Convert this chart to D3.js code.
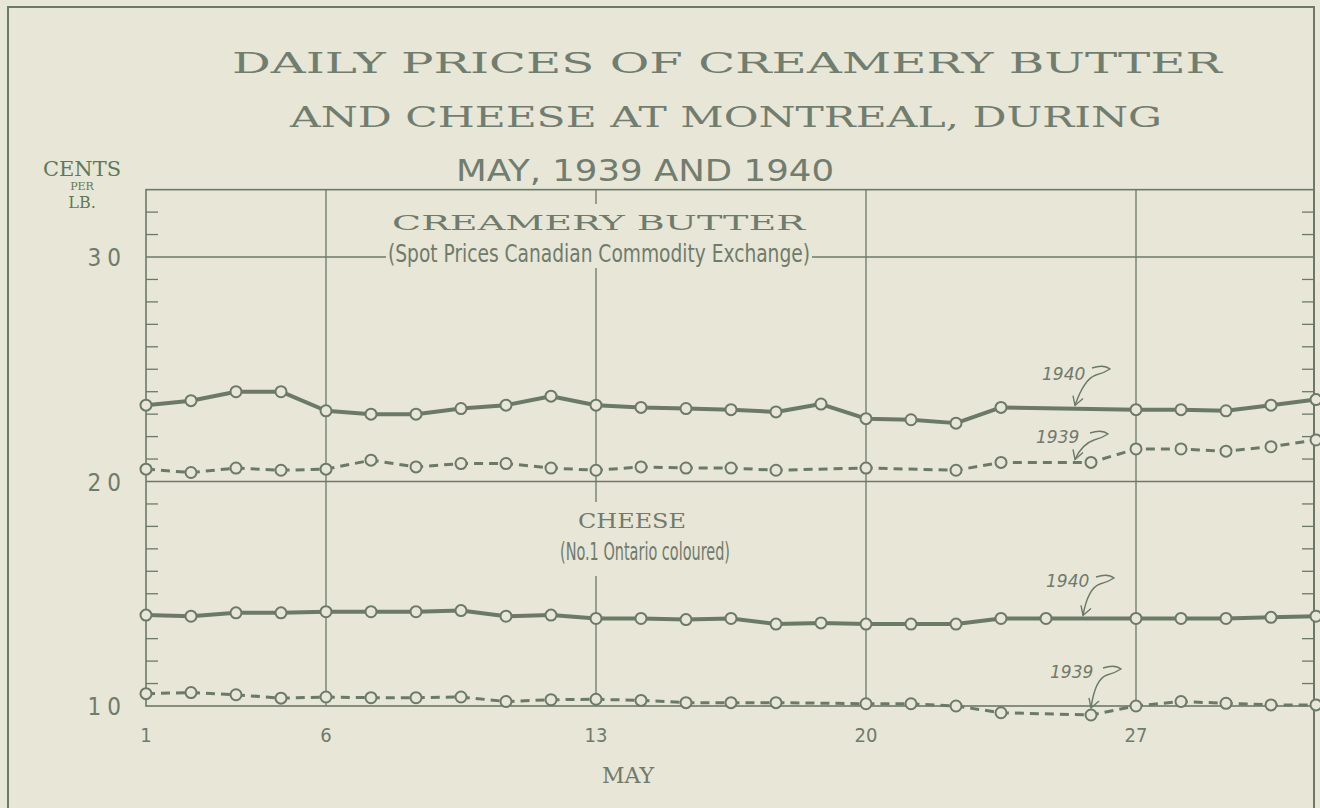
<html>
<head>
<meta charset="utf-8">
<style>
  body { margin: 0; background: #e8e6d7; }
  svg { display: block; }
  .serif { font-family: "DejaVu Serif", "Liberation Serif", serif; }
  .sans { font-family: "DejaVu Sans Condensed", "DejaVu Sans", sans-serif; font-weight: 300; }
  .hand { font-family: "DejaVu Sans", sans-serif; font-style: italic; }
</style>
<script src="https://cdn.jsdelivr.net/npm/d3@7"></script>
</head>
<body>
<svg id="chart" width="1320" height="808"></svg>
<script>
// trading days of May plotted on the axis (Sundays left out)
var days = [1,2,3,4,6,7,8,9,10,11,13,14,15,16,17,18,20,21,22,23,24,25,27,28,29,30,31];
var dayTicks = [1,6,13,20,27];
var yTicks = [10,20,30];

// cents per lb, null = no quotation
var butter1940 = [23.4,23.6,24.0,24.0,23.15,23.0,23.0,23.25,23.4,23.8,23.4,23.3,23.25,23.2,23.1,23.45,22.8,22.75,22.6,23.3,null,null,23.2,23.2,23.15,23.4,23.65];
var butter1939 = [20.55,20.4,20.6,20.5,20.55,20.95,20.65,20.8,20.8,20.6,20.5,20.65,20.6,20.6,20.5,null,20.6,null,20.5,20.85,null,20.85,21.45,21.45,21.35,21.55,21.85];
var cheese1940 = [14.05,14.0,14.15,14.15,14.2,14.2,14.2,14.25,14.0,14.05,13.9,13.9,13.85,13.9,13.65,13.7,13.65,13.65,13.65,13.9,13.9,null,13.9,13.9,13.9,13.95,14.0];
var cheese1939 = [10.55,10.6,10.5,10.35,10.4,10.37,10.37,10.4,10.2,10.28,10.3,10.25,10.15,10.15,10.15,null,10.1,10.1,10.0,9.7,null,9.6,10.0,10.2,10.12,10.05,10.05];

var ink = '#6b7a67';
var bg = '#e8e6d7';

var svg = d3.select('#chart');
svg.append('rect').attr('width', 1320).attr('height', 808).attr('fill', bg);

var x = d3.scalePoint().domain(days).range([146, 1316]);
var y = d3.scaleLinear().domain([10, 30]).range([706, 257]);
var plotLeft = 146, plotRight = 1314, plotTop = y(33), plotBottom = y(10);

// outer frame
svg.append('path')
   .attr('d', 'M8,812 L8,7 L' + plotRight + ',7 L' + plotRight + ',812')
   .attr('fill', 'none').attr('stroke', ink).attr('stroke-width', 2);

// title
var title = [
  {t: 'DAILY PRICES OF CREAMERY BUTTER', y: 73, x1: 232, x2: 1222, cls: 'serif', size: 27},
  {t: 'AND CHEESE AT MONTREAL, DURING', y: 127, x1: 290, x2: 1162, cls: 'serif', size: 27},
  {t: 'MAY, 1939 AND 1940', y: 181, x1: 456, x2: 834, cls: 'sans', size: 30}
];
svg.selectAll('.title').data(title).enter().append('text')
   .attr('class', function(d) { return 'title ' + d.cls; })
   .attr('x', function(d) { return d.x1; })
   .attr('y', function(d) { return d.y; })
   .attr('textLength', function(d) { return d.x2 - d.x1; })
   .attr('lengthAdjust', 'spacingAndGlyphs')
   .style('font-size', function(d) { return d.size + 'px'; })
   .attr('fill', '#717d6f')
   .text(function(d) { return d.t; });

// unit label
svg.append('text').attr('class', 'serif').attr('x', 82).attr('y', 176).attr('text-anchor', 'middle')
   .style('font-size', '21px').attr('fill', '#5d7a58').text('CENTS');
svg.append('text').attr('class', 'serif').attr('x', 82).attr('y', 190).attr('text-anchor', 'middle')
   .style('font-size', '11px').attr('fill', '#5d7a58').text('PER');
svg.append('text').attr('class', 'serif').attr('x', 82).attr('y', 208).attr('text-anchor', 'middle')
   .style('font-size', '16px').attr('fill', '#5d7a58').text('LB.');

// grid
var g = svg.append('g').attr('stroke', ink).attr('fill', 'none');
g.append('rect').attr('x', plotLeft).attr('y', plotTop).attr('width', plotRight - plotLeft).attr('height', plotBottom - plotTop)
 .attr('stroke-width', 1.6);
g.selectAll('.vgrid').data(dayTicks.slice(1)).enter().append('line')
 .attr('x1', function(d) { return x(d); }).attr('x2', function(d) { return x(d); })
 .attr('y1', plotTop).attr('y2', plotBottom).attr('stroke-width', 1.3);
g.selectAll('.hgrid').data([20, 30]).enter().append('line')
 .attr('x1', plotLeft).attr('x2', plotRight)
 .attr('y1', function(d) { return y(d); }).attr('y2', function(d) { return y(d); })
 .attr('stroke-width', 1.3);
var minor = d3.range(11, 34).filter(function(d) { return d % 10 != 0 && y(d) > plotTop + 2; });
g.selectAll('.tl').data(minor).enter().append('line')
 .attr('x1', plotLeft).attr('x2', plotLeft + 12)
 .attr('y1', function(d) { return y(d); }).attr('y2', function(d) { return y(d); }).attr('stroke-width', 1.3);
g.selectAll('.tr').data(minor).enter().append('line')
 .attr('x1', plotRight - 12).attr('x2', plotRight)
 .attr('y1', function(d) { return y(d); }).attr('y2', function(d) { return y(d); }).attr('stroke-width', 1.3);

// axis labels
svg.selectAll('.ylab').data(yTicks).enter().append('text')
   .attr('class', 'sans').attr('x', 127).attr('y', function(d) { return y(d) + 9; })
   .attr('text-anchor', 'end').style('font-size', '24px').style('letter-spacing', '6px')
   .attr('fill', '#6f7b6c').text(function(d) { return d; });
svg.selectAll('.xlab').data(dayTicks).enter().append('text')
   .attr('class', 'sans').attr('x', function(d) { return x(d); }).attr('y', 742)
   .attr('text-anchor', 'middle').style('font-size', '20px')
   .attr('fill', '#6f7b6c').text(function(d) { return d; });
svg.append('text').attr('class', 'serif').attr('x', 628).attr('y', 783).attr('text-anchor', 'middle')
   .style('font-size', '22px').attr('fill', '#6f7b6c').text('MAY');

// section labels, masking the grid behind them
function block(x1, x2, y1, y2, head, hx1, hx2, hy, sub, sx1, sx2, sy) {
  svg.append('rect').attr('x', x1).attr('y', y1).attr('width', x2 - x1).attr('height', y2 - y1).attr('fill', bg);
  svg.append('text').attr('class', 'serif').attr('x', hx1).attr('y', hy)
     .attr('textLength', hx2 - hx1).attr('lengthAdjust', 'spacingAndGlyphs')
     .style('font-size', '21px').attr('fill', '#6f7b6c').text(head);
  svg.append('text').attr('class', 'sans').attr('x', sx1).attr('y', sy)
     .attr('textLength', sx2 - sx1).attr('lengthAdjust', 'spacingAndGlyphs')
     .style('font-size', '25px').attr('fill', '#6f7b6c').text(sub);
}
block(386, 812, 204, 268, 'CREAMERY BUTTER', 392, 805, 230, '(Spot Prices Canadian Commodity Exchange)', 388, 810, 262);
block(556, 734, 502, 576, 'CHEESE', 578, 686, 528, '(No.1 Ontario coloured)', 560, 730, 560);

// series
var series = [
  {v: butter1940, dash: null, w: 4},
  {v: butter1939, dash: '9,6', w: 3},
  {v: cheese1940, dash: null, w: 4},
  {v: cheese1939, dash: '9,6', w: 3}
];
var line = d3.line().x(function(d) { return x(d.day); }).y(function(d) { return y(d.v); });
series.forEach(function(s) {
  var pts = days.map(function(d, i) { return {day: d, v: s.v[i]}; }).filter(function(p) { return p.v != null; });
  svg.append('path').datum(pts).attr('d', line)
     .attr('fill', 'none').attr('stroke', ink).attr('stroke-width', s.w)
     .attr('stroke-dasharray', s.dash).attr('stroke-linejoin', 'round');
  svg.selectAll(null).data(pts).enter().append('circle')
     .attr('cx', function(d) { return x(d.day); }).attr('cy', function(d) { return y(d.v); })
     .attr('r', 5.5).attr('fill', bg).attr('stroke', ink).attr('stroke-width', 2);
});

// hand-written year notes with arrows (tip given as day + offset, value)
var notes = [
  {t: '1940', x: 1042, y: 380, day: 25, dx: -16, v: 23.25, from: [1092, 371]},
  {t: '1939', x: 1036, y: 443, day: 25, dx: -16, v: 20.85, from: [1090, 436]},
  {t: '1940', x: 1046, y: 587, day: 25, dx: -8, v: 13.9, from: [1096, 580]},
  {t: '1939', x: 1050, y: 678, day: 25, dx: 0, v: 9.6, from: [1103, 671]}
];
notes.forEach(function(n) {
  svg.append('text').attr('class', 'hand').attr('x', n.x).attr('y', n.y)
     .style('font-size', '17px').attr('fill', '#6f7b6c').text(n.t);
  var tx = x(n.day) + n.dx, ty = y(n.v) - (n.dx == 0 ? 7 : 3);
  svg.append('path')
     .attr('d', 'M' + n.from[0] + ',' + (n.from[1] - 3) + ' q12,-4 18,1 q-6,4 -14,6 q-12,4 ' + (tx - n.from[0] - 4) + ',' + (ty - n.from[1] - 4))
     .attr('fill', 'none').attr('stroke', ink).attr('stroke-width', 1.4);
  svg.append('path').attr('d', 'M' + (tx - 2) + ',' + (ty - 10) + ' L' + tx + ',' + ty + ' L' + (tx + 8) + ',' + (ty - 7))
     .attr('fill', 'none').attr('stroke', ink).attr('stroke-width', 1.4);
});
</script>
</body>
</html>
